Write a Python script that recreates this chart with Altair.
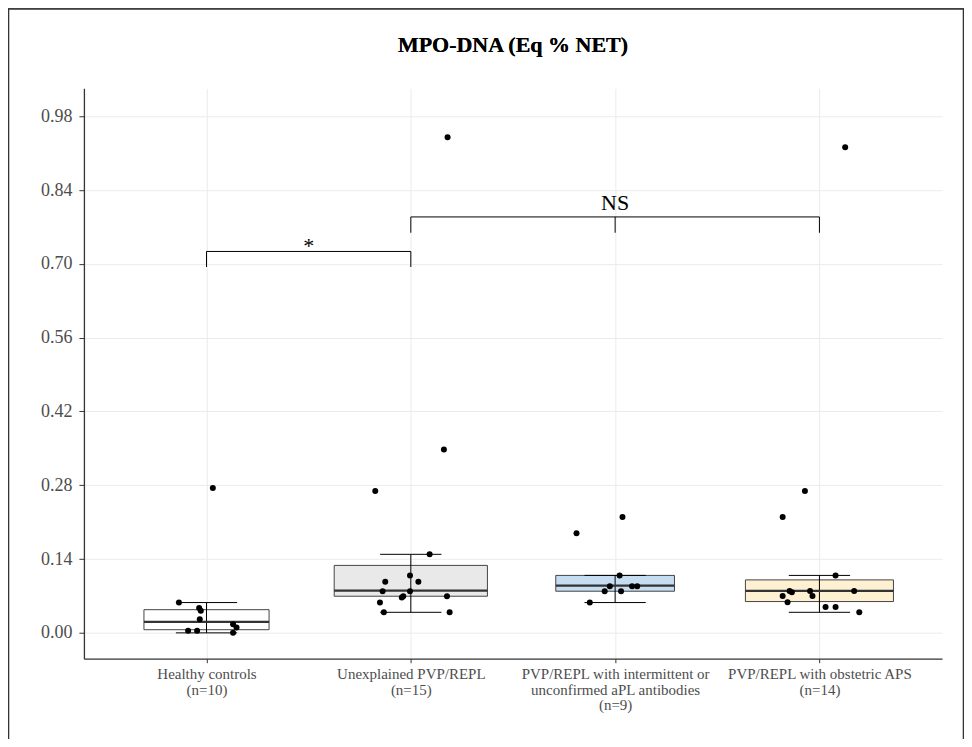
import altair as alt
import pandas as pd
import numpy as np

# ---------------- data ----------------
title_text = "MPO-DNA (Eq % NET)"
label_lines = [
    ["Healthy controls", "(n=10)"],
    ["Unexplained PVP/REPL", "(n=15)"],
    ["PVP/REPL with intermittent or", "unconfirmed aPL antibodies", "(n=9)"],
    ["PVP/REPL with obstetric APS", "(n=14)"],
]
group_n = [10, 15, 9, 14]
box_fill = ["#ffffff", "#e9e9e9", "#c6dcf0", "#fdf1d2"]

box_lower = [0.0, 0.039, 0.0575, 0.039]
box_q1 = [0.006, 0.0695, 0.079, 0.0594]
box_median = [0.021, 0.080, 0.0897, 0.0796]
box_q3 = [0.044, 0.128, 0.109, 0.1005]
box_upper = [0.0575, 0.149, 0.109, 0.109]

healthy_values = [0.0575, 0.047, 0.042, 0.026, 0.004, 0.004, 0.0165, 0.010, 0.0, 0.275]
healthy_jitter = [-0.135, -0.036, -0.028, -0.033, -0.09, -0.046, 0.13, 0.147, 0.13, 0.031]

unexplained_values = [0.348, 0.269, 0.149, 0.109, 0.097, 0.097, 0.079, 0.079, 0.0695,
                      0.067, 0.0695, 0.0575, 0.039, 0.039, 0.94]
unexplained_jitter = [0.162, -0.174, 0.092, -0.004, -0.125, 0.037, -0.138, -0.004, -0.037,
                      -0.044, 0.177, -0.151, -0.132, 0.19, 0.18]

intermittent_values = [0.22, 0.189, 0.109, 0.0885, 0.079, 0.079, 0.0885, 0.0885, 0.0575]
intermittent_jitter = [0.036, -0.189, 0.022, -0.026, -0.051, 0.029, 0.083, 0.108, -0.124]

obstetric_values = [0.269, 0.22, 0.109, 0.0796, 0.077, 0.0796, 0.0796, 0.070, 0.070,
                    0.058, 0.049, 0.049, 0.039, 0.921]
obstetric_jitter = [-0.071, -0.18, 0.079, -0.146, -0.135, -0.046, 0.17, -0.18, -0.034,
                    -0.156, 0.03, 0.079, 0.195, 0.126]

# significance brackets (group positions, heights)
bracket_from = [1, 2]
bracket_to = [2, 4]
bracket_top = [0.7235, 0.789]
bracket_drop = [0.694, 0.759]
bracket_legs = [[1, 2], [2, 3, 4]]
bracket_text = ["*", "NS"]
bracket_text_y = [0.721, 0.803]

y_ticks = [0.0, 0.14, 0.28, 0.42, 0.56, 0.70, 0.84, 0.98]

# ---------------- frames ----------------
pos = [1, 2, 3, 4]
boxes = pd.DataFrame({
    "pos": pos, "lower": box_lower, "q1": box_q1, "median": box_median,
    "q3": box_q3, "upper": box_upper, "fill": box_fill, "n": group_n,
})
half = 0.375 * np.sqrt(boxes["n"] / 15.0)
boxes["xl"] = boxes["pos"] - half
boxes["xr"] = boxes["pos"] + half
boxes["cl"] = boxes["pos"] - 0.15
boxes["cr"] = boxes["pos"] + 0.15

pts = []
for p, vals, jit in zip(pos,
                        [healthy_values, unexplained_values, intermittent_values, obstetric_values],
                        [healthy_jitter, unexplained_jitter, intermittent_jitter, obstetric_jitter]):
    for v, j in zip(vals, jit):
        pts.append({"x": p + j, "y": v})
points = pd.DataFrame(pts)

segs = []
for a, b, top, drop, legs in zip(bracket_from, bracket_to, bracket_top, bracket_drop, bracket_legs):
    segs.append({"x1": a, "x2": b, "y1": top, "y2": top})
    for l in legs:
        segs.append({"x1": l, "x2": l, "y1": top, "y2": drop})
segments = pd.DataFrame(segs)
btext = pd.DataFrame({
    "x": [(a + b) / 2 for a, b in zip(bracket_from, bracket_to)],
    "y": bracket_text_y, "label": bracket_text,
})

# ---------------- scales / axes ----------------
FONT = "Liberation Serif"
xs = alt.Scale(domain=[0.4, 4.6], nice=False, zero=False)
ys = alt.Scale(domain=[-0.049, 1.033], nice=False, zero=False)

label_arr = "[" + ",".join("[" + ",".join("'%s'" % s for s in lines) + "]" for lines in label_lines) + "]"
xaxis = alt.Axis(values=pos, labelExpr=label_arr + "[datum.value - 1]", title=None,
                 grid=True, gridColor="#ebebeb", domain=True, domainColor="#333333",
                 domainWidth=1.3, tickColor="#333333", tickSize=4, labelPadding=4,
                 labelFont=FONT, labelFontSize=15, labelColor="#4d4d4d",
                 labelLineHeight=15.5, labelAlign="center", labelLimit=400,
                 labelOverlap=False)
yaxis = alt.Axis(values=y_ticks, format=".2f", title=None, grid=True, gridColor="#ebebeb",
                 domain=True, domainColor="#333333", domainWidth=1.3, tickColor="#333333",
                 tickSize=5, labelPadding=7, labelFont=FONT, labelFontSize=18,
                 labelColor="#4d4d4d")


def X(f):
    return alt.X(f, type="quantitative", scale=xs, axis=xaxis)


def Y(f):
    return alt.Y(f, type="quantitative", scale=ys, axis=yaxis)


base_box = alt.Chart(boxes)

box_rect = base_box.mark_rect(stroke="#444444", strokeWidth=1).encode(
    x=X("xl"), x2="xr", y=Y("q1"), y2="q3", fill=alt.Fill("fill:N", scale=None))
median_rule = base_box.mark_rule(color="#333333", strokeWidth=2.3).encode(
    x=X("xl"), x2="xr", y=Y("median"))
whisker = base_box.mark_rule(color="#000000", strokeWidth=1).encode(
    x=X("pos"), y=Y("lower"), y2="upper")
cap_top = base_box.mark_rule(color="#000000", strokeWidth=1).encode(
    x=X("cl"), x2="cr", y=Y("upper"))
cap_bot = base_box.mark_rule(color="#000000", strokeWidth=1).encode(
    x=X("cl"), x2="cr", y=Y("lower"))

dots = alt.Chart(points).mark_circle(size=36, color="#000000", opacity=1).encode(
    x=X("x"), y=Y("y"))

brackets = alt.Chart(segments).mark_rule(color="#000000", strokeWidth=1).encode(
    x=X("x1"), x2="x2", y=Y("y1"), y2="y2")
brack_lab = alt.Chart(btext).mark_text(font=FONT, fontSize=22, color="#000000",
                                       align="center", baseline="alphabetic").encode(
    x=X("x"), y=Y("y"), text="label:N")

title_mark = alt.Chart(btext).mark_text(font=FONT, fontSize=22, fontWeight="bold",
                                        color="#000000", align="center",
                                        baseline="middle").encode(
    x=alt.value(429.5), y=alt.value(-43), text=alt.value(title_text))

border = alt.Chart(btext).mark_rect(fill=None, stroke="#333333", strokeWidth=1.3).encode(
    x=alt.value(-75.5), x2=alt.value(880.5), y=alt.value(-79.5), y2=alt.value(720))

chart = alt.layer(
    box_rect, whisker, median_rule, cap_top, cap_bot, dots, brackets, brack_lab,
    title_mark, border,
).properties(
    width=859, height=571,
    autosize=alt.AutoSizeParams(type="none"),
    padding={"left": 76, "top": 80, "right": 22, "bottom": 80},
    background="#ffffff",
).configure_view(stroke=None)

chart.save("out.html", embed_options={"renderer": "svg", "actions": False})
